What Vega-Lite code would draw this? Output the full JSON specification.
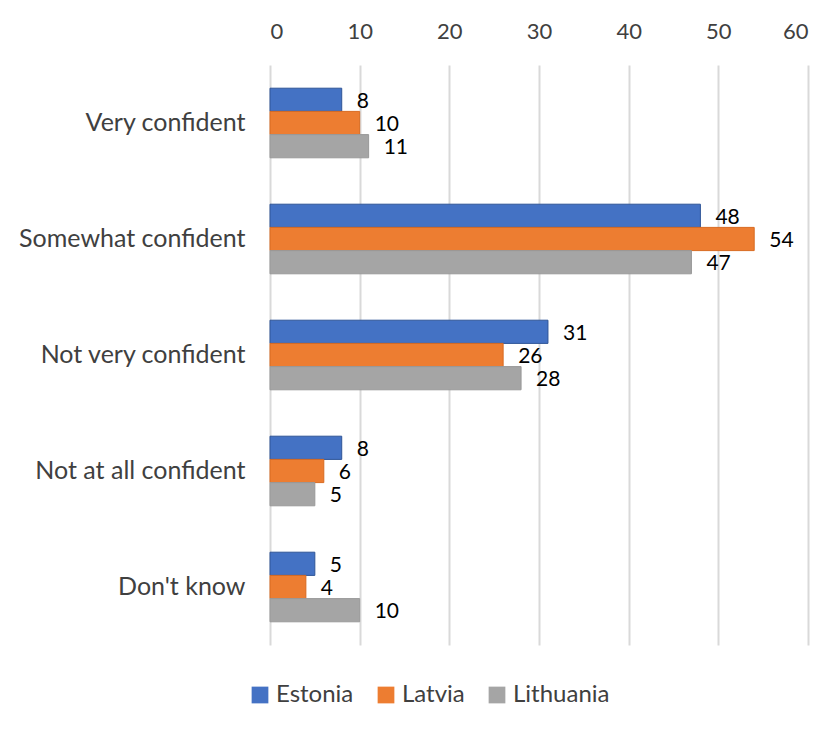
{
  "$schema": "https://vega.github.io/schema/vega-lite/v6.json",
  "width": 538,
  "height": 580,
  "padding": {"left": 5, "top": 7, "right": 10, "bottom": 5},
  "background": "white",
  "data": {
    "values": [
      {"category": "Very confident", "country": "Estonia", "value": 8},
      {"category": "Very confident", "country": "Latvia", "value": 10},
      {"category": "Very confident", "country": "Lithuania", "value": 11},
      {"category": "Somewhat confident", "country": "Estonia", "value": 48},
      {"category": "Somewhat confident", "country": "Latvia", "value": 54},
      {"category": "Somewhat confident", "country": "Lithuania", "value": 47},
      {"category": "Not very confident", "country": "Estonia", "value": 31},
      {"category": "Not very confident", "country": "Latvia", "value": 26},
      {"category": "Not very confident", "country": "Lithuania", "value": 28},
      {"category": "Not at all confident", "country": "Estonia", "value": 8},
      {"category": "Not at all confident", "country": "Latvia", "value": 6},
      {"category": "Not at all confident", "country": "Lithuania", "value": 5},
      {"category": "Don't know", "country": "Estonia", "value": 5},
      {"category": "Don't know", "country": "Latvia", "value": 4},
      {"category": "Don't know", "country": "Lithuania", "value": 10}
    ]
  },
  "encoding": {
    "y": {
      "field": "category",
      "type": "nominal",
      "sort": ["Very confident", "Somewhat confident", "Not very confident", "Not at all confident", "Don't know"],
      "scale": {"paddingInner": 0.4, "paddingOuter": 0.2},
      "axis": {
        "title": null,
        "domain": false,
        "ticks": false,
        "labelPadding": 25,
        "labelFontSize": 25,
        "labelFont": "Lato",
        "labelColor": "#404040",
        "labelLimit": 400,
        "minExtent": 265,
        "maxExtent": 265
      }
    },
    "yOffset": {
      "field": "country",
      "type": "nominal",
      "sort": ["Estonia", "Latvia", "Lithuania"]
    },
    "x": {
      "field": "value",
      "type": "quantitative",
      "scale": {"domain": [0, 60], "nice": false},
      "axis": {
        "orient": "top",
        "title": null,
        "domain": false,
        "ticks": false,
        "values": [0, 10, 20, 30, 40, 50, 60],
        "labelPadding": 22,
        "labelFontSize": 22,
        "labelFont": "Lato",
        "labelColor": "#404040",
        "gridColor": "#d9d9d9",
        "gridWidth": 2,
        "minExtent": 58,
        "maxExtent": 58
      }
    }
  },
  "layer": [
    {
      "mark": {"type": "bar", "strokeWidth": 1},
      "encoding": {
        "color": {
          "field": "country",
          "type": "nominal",
          "sort": ["Estonia", "Latvia", "Lithuania"],
          "scale": {"domain": ["Estonia", "Latvia", "Lithuania"], "range": ["#4472C4", "#ED7D31", "#A5A5A5"]},
          "legend": {
            "orient": "none",
            "legendX": -22,
            "legendY": 618,
            "title": null,
            "direction": "horizontal",
            "symbolType": "square",
            "symbolSize": 280,
            "symbolStrokeWidth": 0,
            "labelFontSize": 24,
            "labelFont": "Lato",
            "labelColor": "#404040",
            "columnPadding": 20
          }
        },
        "stroke": {
          "field": "country",
          "type": "nominal",
          "scale": {"domain": ["Estonia", "Latvia", "Lithuania"], "range": ["#2F5597", "#D86A20", "#999999"]},
          "legend": null
        }
      }
    },
    {
      "mark": {"type": "text", "align": "left", "baseline": "middle", "dx": 15, "dy": 2, "fontSize": 21, "font": "Lato", "color": "#000000"},
      "encoding": {
        "text": {"field": "value", "type": "quantitative"}
      }
    }
  ],
  "config": {"view": {"stroke": null}}
}
